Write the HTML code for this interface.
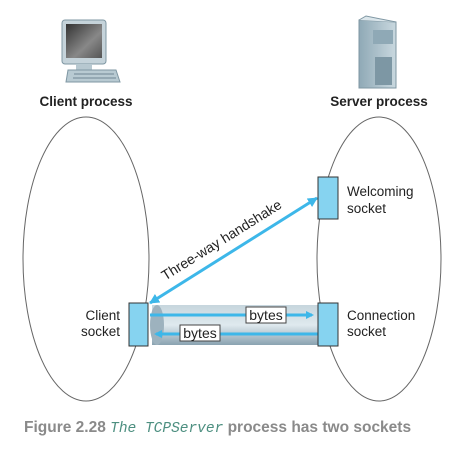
<!DOCTYPE html>
<html><head><style>
body{margin:0;background:#fff;}
svg{display:block;}
</style></head><body>
<svg width="469" height="456" viewBox="0 0 469 456" xmlns="http://www.w3.org/2000/svg" font-family="Liberation Sans, DejaVu Sans, sans-serif">
<defs>
<linearGradient id="scr" x1="0" y1="0" x2="1" y2="1"><stop offset="0" stop-color="#333"/><stop offset="0.6" stop-color="#888"/><stop offset="1" stop-color="#555"/></linearGradient>
<linearGradient id="tube" x1="0" y1="0" x2="0" y2="1"><stop offset="0" stop-color="#c6d5dd"/><stop offset="0.5" stop-color="#dfe9ee"/><stop offset="1" stop-color="#8aa2b0"/></linearGradient>
<linearGradient id="srv" x1="0" y1="0" x2="1" y2="0"><stop offset="0" stop-color="#8fa9b6"/><stop offset="1" stop-color="#c9d8df"/></linearGradient>
<marker id="ah" markerWidth="8" markerHeight="8" refX="6" refY="4" orient="auto" markerUnits="userSpaceOnUse"><path d="M0,0 L8,4 L0,8 Z" fill="#3db7e9"/></marker>
<marker id="ahs" markerWidth="10" markerHeight="10" refX="9" refY="5" orient="auto-start-reverse" markerUnits="userSpaceOnUse"><path d="M0,0 L10,5 L0,10 Z" fill="#3db7e9"/></marker>
</defs>
<rect x="62" y="20" width="44" height="44" rx="3" fill="#c5d3da" stroke="#7f97a3"/>
<rect x="66" y="24" width="36" height="34" fill="url(#scr)"/>
<rect x="76" y="64" width="16" height="6" fill="#b7c8d0"/>
<path d="M68,70 L116,70 L120,82 L66,82 Z" fill="#b8cad2" stroke="#7f97a3"/>
<line x1="74" y1="74" x2="114" y2="74" stroke="#6f8794"/><line x1="73" y1="78" x2="116" y2="78" stroke="#6f8794"/>
<path d="M359,20 L396,22 L396,88 L359,88 Z" fill="url(#srv)" stroke="#7f97a3"/>
<path d="M359,20 L366,16 L396,22" fill="#dbe6eb" stroke="#7f97a3"/>
<rect x="373" y="30" width="20" height="14" fill="#8fa9b6"/>
<rect x="375" y="57" width="17" height="28" fill="#7d97a4"/>
<text x="86" y="106" text-anchor="middle" font-size="13.5" font-weight="bold" fill="#222">Client process</text>
<text x="379" y="106" text-anchor="middle" font-size="13.5" font-weight="bold" fill="#222">Server process</text>
<ellipse cx="86" cy="259" rx="63" ry="142" fill="none" stroke="#666"/>
<ellipse cx="379" cy="259" rx="62" ry="142" fill="none" stroke="#666"/>
<rect x="152" y="305" width="166" height="40" fill="url(#tube)"/>
<ellipse cx="157" cy="325" rx="7" ry="20" fill="#9db2be"/>
<line x1="150" y1="303" x2="317" y2="198" stroke="#3db7e9" stroke-width="3" marker-start="url(#ahs)" marker-end="url(#ahs)"/>
<text transform="translate(224,244) rotate(-32)" text-anchor="middle" font-size="14" fill="#222">Three-way handshake</text>
<line x1="150" y1="315" x2="312" y2="315" stroke="#3db7e9" stroke-width="3" marker-end="url(#ah)"/>
<line x1="318" y1="334" x2="156" y2="334" stroke="#3db7e9" stroke-width="3" marker-end="url(#ah)"/>
<rect x="246" y="307" width="40" height="16" fill="#fff" stroke="#444"/>
<text x="266" y="320" text-anchor="middle" font-size="14" fill="#222">bytes</text>
<rect x="180" y="325" width="40" height="16" fill="#fff" stroke="#444"/>
<text x="200" y="338" text-anchor="middle" font-size="14" fill="#222">bytes</text>
<rect x="129" y="303" width="19" height="43" fill="#86d3f0" stroke="#333"/>
<rect x="318" y="303" width="20" height="43" fill="#86d3f0" stroke="#333"/>
<rect x="318" y="177" width="20" height="42" fill="#86d3f0" stroke="#333"/>
<g font-size="13.5" fill="#222">
<text x="120" y="320" text-anchor="end">Client</text>
<text x="120" y="336" text-anchor="end">socket</text>
<text x="347" y="196">Welcoming</text>
<text x="347" y="213">socket</text>
<text x="347" y="320">Connection</text>
<text x="347" y="336">socket</text>
</g>
<text x="24" y="432" font-size="15.5" font-weight="bold" fill="#8a8a8a">Figure 2.28 <tspan font-family="Liberation Mono, monospace" font-style="italic" font-weight="normal" fill="#4d8f80" font-size="14.5">The TCPServer</tspan> process has two sockets</text>
</svg>
</body></html>
